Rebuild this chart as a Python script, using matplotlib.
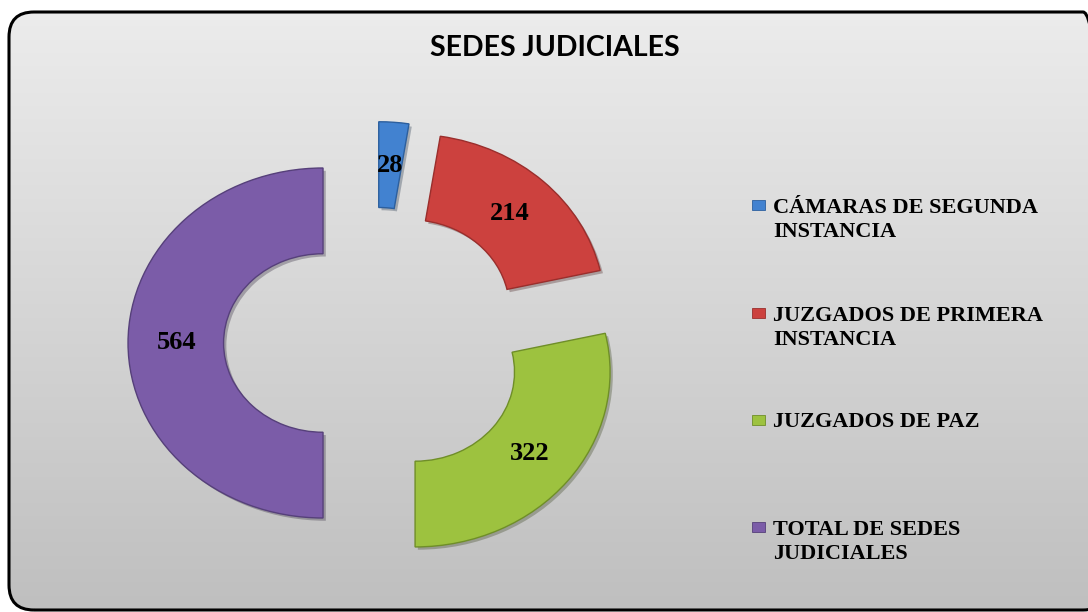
import matplotlib
matplotlib.use('Agg')
import matplotlib.pyplot as plt
import numpy as np
from matplotlib.patches import FancyBboxPatch, Rectangle
from matplotlib import patheffects as pe

# data
categories = ['CÁMARAS DE SEGUNDA\nINSTANCIA', 'JUZGADOS DE PRIMERA\nINSTANCIA',
              'JUZGADOS DE PAZ', 'TOTAL DE SEDES\nJUDICIALES']
values = [28, 214, 322, 564]
colors = ['#4282d0', '#cc413e', '#9dc23f', '#7b5ca8']
edges = ['#2c5f9e', '#9a2e2c', '#6f8e28', '#56407a']

W, H = 1088, 612
fig = plt.figure(figsize=(W / 100, H / 100), dpi=100)

# background panel with vertical gray gradient and rounded border
bg = fig.add_axes([0, 0, 1, 1])
bg.set_xlim(0, W)
bg.set_ylim(0, H)
bg.axis('off')
grad = np.linspace(0, 1, 256).reshape(-1, 1)
img = bg.imshow(grad, cmap=matplotlib.colors.LinearSegmentedColormap.from_list('g', ['#ececec', '#bfbfbf']),
                extent=[9, W + 20, 2, H - 12], origin='upper', aspect='auto', zorder=0)
box = FancyBboxPatch((9 + 25, 2 + 25), W + 20 - 9 - 50, H - 12 - 2 - 50,
                     boxstyle='round,pad=25', fc='none', ec='black', lw=2.2, zorder=1)
bg.add_patch(box)
img.set_clip_path(box)

# doughnut (image is stretched horizontally, so aspect is not equal)
ax_l, ax_r, ax_t, ax_b = 100, 650, 80, 600
ax = fig.add_axes([ax_l / W, (H - ax_b) / H, (ax_r - ax_l) / W, (ax_b - ax_t) / H])
cx, cy, rx, ry = 374.7, 343, 195.0, 175.0

wedges, texts, autotexts = ax.pie(
    values, colors=colors, startangle=90, counterclock=False,
    explode=[0.265] * 4, radius=1.0,
    wedgeprops=dict(width=0.49, linewidth=1.0),
    autopct=lambda p: '{:.0f}'.format(p * sum(values) / 100),
    pctdistance=0.75,
    textprops=dict(family='Liberation Serif', fontweight='bold', fontsize=19, color='black'))
for w, ec in zip(wedges, edges):
    w.set_edgecolor(ec)
    w.set_path_effects([pe.SimplePatchShadow(offset=(2, -2), alpha=0.3), pe.Normal()])
ax.set_aspect('auto')
ax.set_xlim((ax_l - cx) / rx, (ax_r - cx) / rx)
ax.set_ylim((cy - ax_b) / ry, (cy - ax_t) / ry)
ax.axis('off')

fig.text(555 / W, 1 - 48 / H, 'SEDES JUDICIALES', ha='center', va='center',
         family='Lato', fontweight='bold', fontsize=20.5, color='black')

# legend: one entry per row, marker aligned with the first text line
row_y = [205, 313, 420, 527]
line_px = 25
for lab, col, ec, y in zip(categories, colors, edges, row_y):
    nlines = lab.count('\n') + 1
    bg.add_patch(Rectangle((752, H - y - 5), 13, 10, fc=col, ec=ec, lw=0.6, zorder=3))
    # va='baseline' anchors the last line, so push down by the extra lines
    bg.text(773, H - y - 7 - (nlines - 1) * line_px, lab, ha='left', va='baseline',
            linespacing=1.25, family='Liberation Serif', fontweight='bold',
            fontsize=16, color='black', zorder=3)

fig.savefig('out.png', dpi=100)
